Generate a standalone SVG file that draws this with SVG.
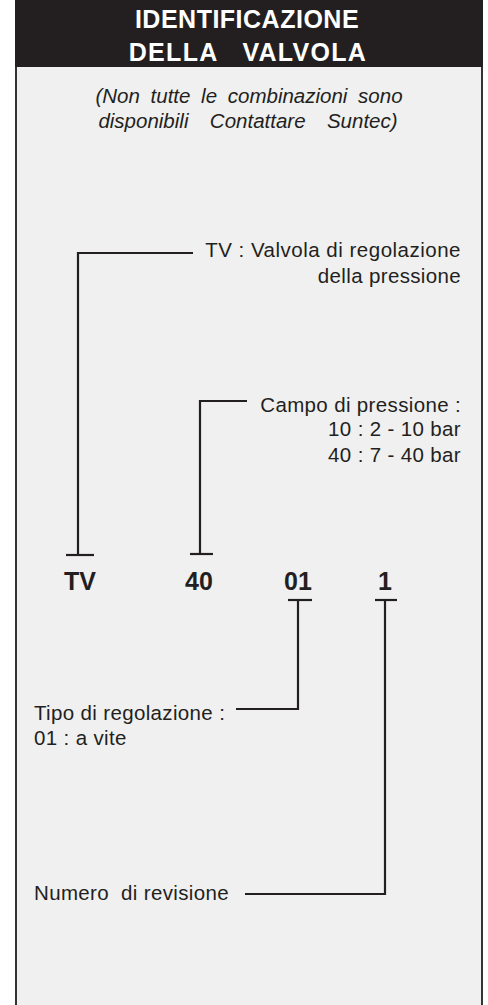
<svg xmlns="http://www.w3.org/2000/svg" width="488" height="1005" viewBox="0 0 488 1005">
<style>
.bg{fill:#f0f0f0}
.body{font-family:"Liberation Sans",Arial,sans-serif;font-size:20.5px;fill:#231f20;letter-spacing:0.35px}
.ital{font-family:"Liberation Sans",Arial,sans-serif;font-size:20.5px;font-style:italic;fill:#231f20;word-spacing:5px;text-anchor:middle}
.code{font-family:"Liberation Sans",Arial,sans-serif;font-size:25px;font-weight:bold;fill:#231f20;text-anchor:middle}
.head{font-family:"Liberation Sans",Arial,sans-serif;font-size:25px;font-weight:bold;fill:#ffffff;text-anchor:middle;letter-spacing:0.5px}
.ln{fill:none;stroke:#231f20;stroke-width:2.2}
.end{text-anchor:end}
</style>
<rect x="0" y="0" width="488" height="1005" fill="#ffffff"/>
<g id="frame">
<rect class="bg" x="16" y="66" width="466" height="945"/>
<path d="M16,0 V1005 M482,0 V1005" fill="none" stroke="#333" stroke-width="2"/>
<rect x="15" y="0" width="468" height="67" fill="#231f20"/>
</g>
<g id="title">
<text class="head" x="247" y="28">IDENTIFICAZIONE</text>
<text class="head" x="248" y="61" xml:space="preserve" style="letter-spacing:1.3px">DELLA   VALVOLA</text>
</g>
<g id="note">
<text class="ital" x="249" y="103">(Non tutte le combinazioni sono</text>
<text class="ital" x="248" y="128" xml:space="preserve">disponibili  Contattare  Suntec)</text>
</g>
<g id="connectors">
<path class="ln" d="M193,253 H78 V555"/>
<path class="ln" d="M66,555 H94"/>
<path class="ln" d="M247,401 H200 V554"/>
<path class="ln" d="M190,554 H213"/>
<path class="ln" d="M288,600 H312"/>
<path class="ln" d="M298,600 V709 H236"/>
<path class="ln" d="M375,600 H397"/>
<path class="ln" d="M385,600 V894 H245"/>
</g>
<g id="node-tv-label">
<text class="body end" x="461" y="257" style="letter-spacing:0.5px">TV : Valvola di regolazione</text>
<text class="body end" x="461" y="283">della pressione</text>
</g>
<g id="node-campo-label">
<text class="body end" x="461" y="412">Campo di pressione :</text>
<text class="body end" x="461" y="436">10 : 2 - 10 bar</text>
<text class="body end" x="461" y="462">40 : 7 - 40 bar</text>
</g>
<g id="node-codes">
<text class="code" x="80" y="590">TV</text>
<text class="code" x="199" y="590">40</text>
<text class="code" x="298" y="590">01</text>
<text class="code" x="385" y="590">1</text>
</g>
<g id="node-tipo-label">
<text class="body" x="34" y="720">Tipo di regolazione :</text>
<text class="body" x="34" y="745">01 : a vite</text>
</g>
<g id="node-revisione-label">
<text class="body" x="34" y="900" xml:space="preserve">Numero  di revisione</text>
</g>
</svg>
